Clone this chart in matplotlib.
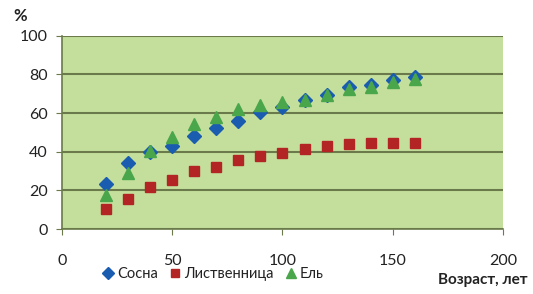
import matplotlib
matplotlib.use("Agg")
import matplotlib.pyplot as plt

plt.rcParams['font.family'] = ['Lato', 'DejaVu Sans']

ages = [20, 30, 40, 50, 60, 70, 80, 90, 100, 110, 120, 130, 140, 150, 160]
sosna = [23.3, 34.3, 40.0, 43.0, 48.2, 52.5, 55.8, 60.5, 63.0, 67.0, 69.3, 73.5, 74.8, 77.2, 78.8]
listv = [10.4, 15.7, 21.8, 25.4, 29.9, 32.3, 35.6, 37.8, 39.5, 41.3, 43.0, 43.9, 44.6, 44.7, 44.5]
el = [17.8, 28.8, 40.6, 47.5, 54.5, 57.8, 62.0, 64.0, 65.8, 67.0, 69.5, 72.5, 73.5, 76.2, 77.5]

series_names = ['Сосна', 'Лиственница', 'Ель']
xticks = [0, 50, 100, 150, 200]
yticks = [0, 20, 40, 60, 80, 100]

fig = plt.figure(figsize=(5.33, 2.94), dpi=100)
ax = fig.add_axes([0.116, 0.221, 0.828, 0.657])
ax.set_facecolor('#c4df9c')

ax.plot(ages, sosna, linestyle='none', marker='D', markersize=7.5, color='#1a5db0', label=series_names[0], zorder=3)
ax.plot(ages, listv, linestyle='none', marker='s', markersize=6.5, color='#b32525', label=series_names[1], zorder=3)
ax.plot(ages, el, linestyle='none', marker='^', markersize=9, color='#4aa64a', label=series_names[2], zorder=4)

ax.set_xlim(0, 200)
ax.set_ylim(0, 100)
ax.set_xticks(xticks)
ax.set_yticks(yticks)
ax.yaxis.grid(True, color='#6a7a4a', linewidth=1.5)
ax.set_axisbelow(True)
for s in ['top', 'right']:
    ax.spines[s].set_visible(False)
ax.spines['left'].set_color('#6a7a4a')
ax.spines['bottom'].set_color('#6a7a4a')
ax.spines['left'].set_linewidth(1.2)
ax.spines['bottom'].set_linewidth(1.2)
ax.tick_params(axis='x', length=4, color='#6a7a4a', pad=14, labelsize=11.5, labelcolor='#222222')
ax.tick_params(axis='y', length=4, color='#6a7a4a', pad=6, labelsize=11.5, labelcolor='#222222')

fig.text(0.025, 0.945, '%', fontsize=12, fontweight='bold', ha='left', va='center', color='#222222')
fig.text(0.99, 0.048, 'Возраст, лет', fontsize=11, fontweight='bold', ha='right', va='center', color='#222222')

leg = fig.legend(loc='center', bbox_to_anchor=(0.40, 0.068), ncol=3, frameon=False,
                 fontsize=10.5, handletextpad=0.2, columnspacing=0.8, handlelength=0.8,
                 markerscale=0.85, borderpad=0.1)
for t in leg.get_texts():
    t.set_color('#222222')

fig.savefig('out.png', dpi=100)
